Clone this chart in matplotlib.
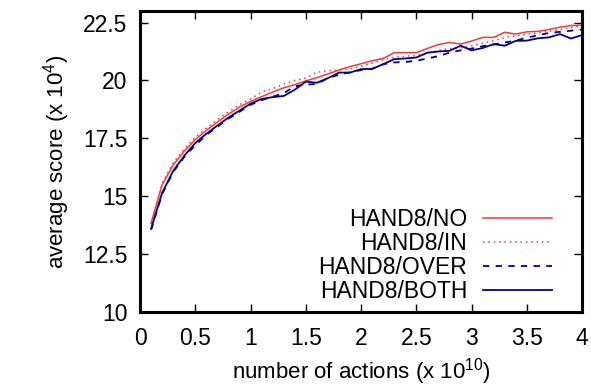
import matplotlib
matplotlib.use('Agg')
import matplotlib.pyplot as plt
import numpy as np

plt.rcParams['font.family'] = ['Liberation Sans', 'DejaVu Sans']
plt.rcParams['mathtext.default'] = 'regular'

# number of actions (x 1e10), sampled every 0.1
actions = np.round(np.arange(1, 41) * 0.1, 1)

hand8_no = [13.85, 15.5, 16.35, 16.95, 17.45, 17.85, 18.2, 18.55, 18.85, 19.1,
            19.3, 19.5, 19.68, 19.82, 19.98, 20.12, 20.28, 20.45, 20.6, 20.72,
            20.85, 20.95, 21.2, 21.2, 21.2, 21.38, 21.55, 21.64, 21.57, 21.7,
            21.86, 21.86, 22.08, 22.0, 22.1, 22.12, 22.2, 22.3, 22.37, 22.38]
hand8_in = [13.8, 15.55, 16.45, 17.05, 17.55, 17.95, 18.3, 18.65, 18.95, 19.2,
            19.5, 19.65, 19.85, 20.0, 20.1, 20.35, 20.42, 20.45, 20.5, 20.62,
            20.75, 20.9, 21.0, 21.05, 21.08, 21.18, 21.3, 21.38, 21.4, 21.5,
            21.6, 21.72, 21.85, 21.92, 22.0, 22.05, 22.12, 22.2, 22.28, 22.36]
hand8_over = [13.55, 15.1, 16.05, 16.7, 17.2, 17.65, 18.0, 18.35, 18.65, 18.95,
              19.15, 19.3, 19.45, 19.75, 19.82, 19.85, 20.1, 20.25, 20.35, 20.45,
              20.5, 20.7, 20.78, 20.8, 20.85, 20.95, 21.05, 21.2, 21.3, 21.38,
              21.48, 21.55, 21.64, 21.72, 21.85, 21.95, 22.05, 22.1, 22.15, 22.2]
hand8_both = [13.6, 15.15, 16.1, 16.75, 17.3, 17.7, 18.05, 18.4, 18.7, 19.0,
              19.2, 19.28, 19.33, 19.6, 19.95, 19.9, 20.1, 20.34, 20.34, 20.49,
              20.5, 20.7, 20.92, 20.95, 20.99, 21.2, 21.25, 21.28, 21.5, 21.3,
              21.4, 21.57, 21.5, 21.71, 21.72, 21.82, 21.86, 22.0, 21.81, 21.96]

x_ticks = [0, 0.5, 1, 1.5, 2, 2.5, 3, 3.5, 4]
x_ticklabels = ['0', '0.5', '1', '1.5', '2', '2.5', '3', '3.5', '4']
y_ticks = [10, 12.5, 15, 17.5, 20, 22.5]
y_ticklabels = ['10', '12.5', '15', '17.5', '20', '22.5']

red = '#f23a3a'
blue = '#00008f'

fig = plt.figure(figsize=(5.91, 3.92), dpi=100)
ax = fig.add_axes([0.237, 0.204, 0.748, 0.768])

ax.plot(actions, hand8_no, color=red, lw=1.1, ls='-', label='HAND8/NO')
ax.plot(actions, hand8_in, color=red, lw=1.1, ls=(0, (1, 2.5)), label='HAND8/IN')
ax.plot(actions, hand8_over, color=blue, lw=1.3, ls=(0, (3.5, 3.5)), label='HAND8/OVER')
ax.plot(actions, hand8_both, color=blue, lw=1.3, ls='-', label='HAND8/BOTH')

ax.set_xlim(0, 4)
ax.set_ylim(10, 23)
ax.set_xticks(x_ticks)
ax.set_xticklabels(x_ticklabels)
ax.set_yticks(y_ticks)
ax.set_yticklabels(y_ticklabels)
ax.tick_params(direction='in', length=6, width=1.0, labelsize=16.5,
               top=True, right=True)
ax.tick_params(axis='x', pad=11)
ax.tick_params(axis='y', pad=9)
for s in ax.spines.values():
    s.set_linewidth(2.2)

ax.set_xlabel('number of actions (x 10$^{10}$)', fontsize=16, labelpad=4)
ax.set_ylabel('average score (x 10$^{4}$)', fontsize=16, labelpad=8)

leg = ax.legend(loc='lower right', bbox_to_anchor=(0.932, 0.03), frameon=False,
                markerfirst=False, fontsize=16.5, handlelength=3.0,
                handletextpad=0.7, labelspacing=0.05, borderpad=0,
                borderaxespad=0)

fig.savefig('out.png', dpi=100)
